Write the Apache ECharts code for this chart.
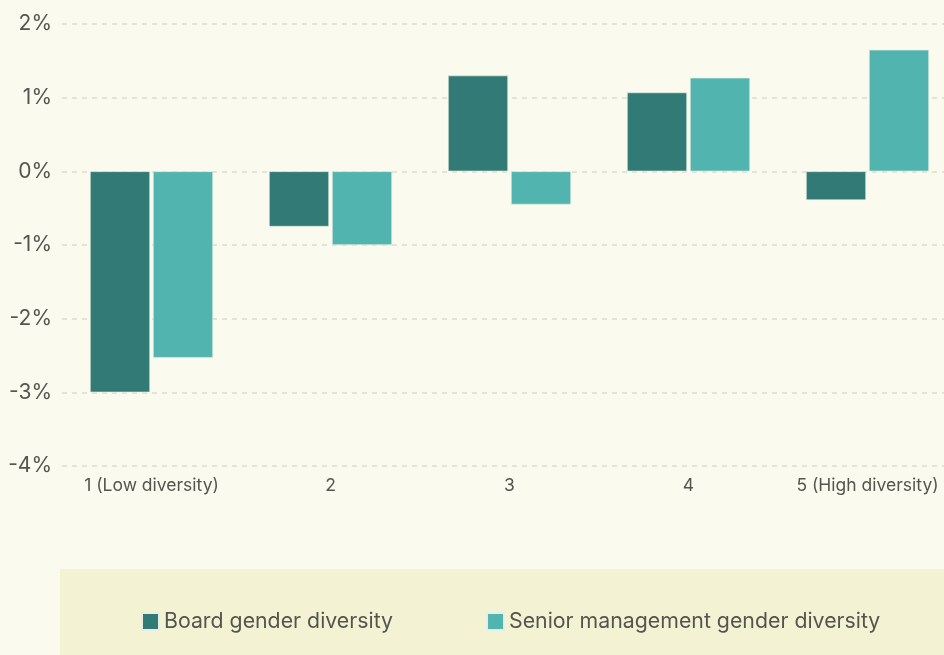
<!DOCTYPE html>
<html>
<head>
<meta charset="utf-8">
<script src="https://cdn.jsdelivr.net/npm/echarts@6/dist/echarts.min.js"></script>
<style>
  html, body { margin: 0; padding: 0; background: #fafaef; }
  #chart { width: 944px; height: 655px; }
</style>
</head>
<body>
<div id="chart"></div>
<script>
const categories = ["1 (Low diversity)", "2", "3", "4", "5 (High diversity)"];
const boardValues = [-3.0, -0.75, 1.3, 1.07, -0.39];
const seniorValues = [-2.53, -1.0, -0.45, 1.27, 1.65];
const seriesNames = ["Board gender diversity", "Senior management gender diversity"];
const colors = ["#327a75", "#52b4ae"];

const chart = echarts.init(document.getElementById("chart"));

const font = "Inter, 'Noto Sans', sans-serif";

chart.setOption({
  backgroundColor: "#fafaef",
  animation: false,
  textStyle: { fontFamily: font },
  graphic: [{
    type: "rect",
    left: 60, top: 569,
    shape: { width: 884, height: 86 },
    style: { fill: "#f3f3d4" },
    z: -10
  }],
  legend: {
    left: 136,
    top: 606,
    itemWidth: 17,
    itemHeight: 17,
    itemGap: 93,
    icon: "rect",
    textStyle: { fontSize: 21.3, color: "#555550", fontFamily: font },
    data: seriesNames
  },
  grid: { left: 62, width: 895, top: 24, bottom: 189, containLabel: false, outerBoundsMode: "none" },
  xAxis: {
    type: "category",
    data: categories,
    axisLine: { show: false },
    axisTick: { show: false },
    axisLabel: { fontSize: 17.5, color: "#555550", margin: 11, interval: 0 }
  },
  yAxis: {
    type: "value",
    min: -4, max: 2, interval: 1,
    axisLine: { show: false },
    axisTick: { show: false },
    axisLabel: {
      fontSize: 21, color: "#555550", margin: 10,
      formatter: (v) => v + "%"
    },
    splitLine: { lineStyle: { color: "#dcdccf", type: [5, 5], width: 1.5 } }
  },
  series: [
    {
      name: seriesNames[0],
      type: "bar",
      data: boardValues,
      barWidth: 60,
      barGap: "5%",
      itemStyle: { color: colors[0], borderColor: "#e9eee4", borderWidth: 0.6 }
    },
    {
      name: seriesNames[1],
      type: "bar",
      data: seniorValues,
      barWidth: 60,
      barGap: "5%",
      itemStyle: { color: colors[1], borderColor: "#e9eee4", borderWidth: 0.6 }
    }
  ]
});
</script>
</body>
</html>
